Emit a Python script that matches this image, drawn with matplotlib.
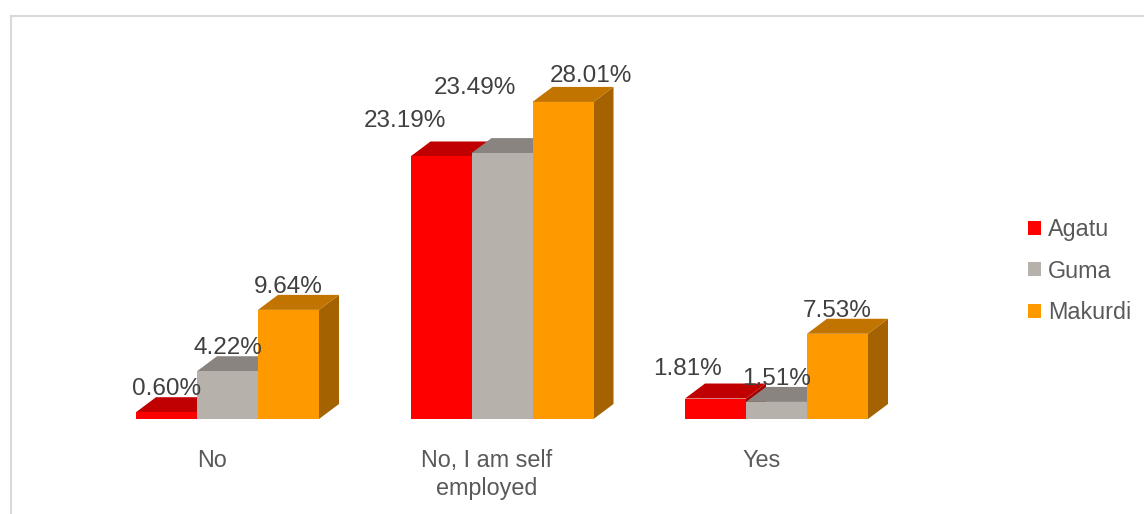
import matplotlib
matplotlib.use("Agg")
import matplotlib.pyplot as plt
from matplotlib.patches import Polygon, Patch
from matplotlib.lines import Line2D
import numpy as np

plt.rcParams['font.family'] = ['Liberation Sans', 'DejaVu Sans']

# data
categories = ["No", "No, I am self\nemployed", "Yes"]
series = ["Agatu", "Guma", "Makurdi"]
agatu = [0.60, 23.19, 1.81]
guma = [4.22, 23.49, 1.51]
makurdi = [9.64, 28.01, 7.53]
values = [agatu, guma, makurdi]

# face colours per series: front, top, side
front_cols = ["#FF0000", "#B7B1AC", "#FF9900"]
top_cols = ["#C00000", "#89847F", "#C27400"]
side_cols = ["#A30000", "#77726E", "#A56200"]

# label nudges in pixels (dx, dy) where labels were moved to avoid overlap
label_nudge = {
    (0, 1): (-36, 12),
    (1, 1): (-27, 42),
    (2, 1): (28, 3),
    (0, 2): (-28, 7),
}

W, H, DPI = 1144, 514, 100
fig = plt.figure(figsize=(W / DPI, H / DPI), dpi=DPI)

# plot area in pixels
px_left, px_right, px_base, px_top = 20, 1000, 419, 40
bar_px = 61.0          # bar width in pixels
pct_px = 11.32         # pixels per percent
cat0_px = 227.5        # pixel centre of first category

ax = fig.add_axes([px_left / W, (H - px_base) / H,
                   (px_right - px_left) / W, (px_base - px_top) / H])
ax.set_xlim((px_left - cat0_px) / bar_px, (px_right - cat0_px) / bar_px)
ax.set_ylim(0, (px_base - px_top) / pct_px)
ax.axis("off")

group_step = 4.5
cat_pos = np.arange(len(categories)) * group_step
depth_x = 20 / bar_px
depth_y = 15 / pct_px

for ci, cx in enumerate(cat_pos):
    for si in range(len(series)):
        h = values[si][ci]
        x0 = cx + (si - 1.5)
        x1 = x0 + 1
        front = Polygon([(x0, 0), (x1, 0), (x1, h), (x0, h)], closed=True,
                        facecolor=front_cols[si], edgecolor="none")
        top = Polygon([(x0, h), (x1, h), (x1 + depth_x, h + depth_y),
                       (x0 + depth_x, h + depth_y)], closed=True,
                      facecolor=top_cols[si], edgecolor="none")
        side = Polygon([(x1, 0), (x1 + depth_x, depth_y),
                        (x1 + depth_x, h + depth_y), (x1, h)], closed=True,
                       facecolor=side_cols[si], edgecolor="none")
        for p in (side, top, front):
            ax.add_patch(p)

        nx, ny = label_nudge.get((si, ci), (0, 0))
        ax.annotate(f"{h:.2f}%", xy=(x0 + 0.5, h + depth_y),
                    xytext=(nx, 8 + ny), textcoords="offset pixels",
                    ha="center", va="center", fontsize=17.5, color="#404040")

# category labels under each group
for ci, cx in enumerate(cat_pos):
    ax.annotate(categories[ci], xy=(cx - 0.25, 0), xytext=(0, -30),
                textcoords="offset pixels", ha="center", va="top",
                fontsize=16.8, color="#595959", linespacing=1.25)

handles = [Patch(facecolor=c, edgecolor="none") for c in front_cols]
fig.legend(handles, series, loc="center left",
           bbox_to_anchor=(1019 / W, 1 - 271 / H), frameon=False,
           fontsize=16.8, labelcolor="#595959", handlelength=0.55,
           handleheight=0.55, handletextpad=0.3, labelspacing=0.8,
           borderaxespad=0)

# chart border
border = "#D9D9D9"
fig.add_artist(Line2D([11 / W, 11 / W], [0, 1 - 16 / H], color=border, lw=1.5))
fig.add_artist(Line2D([11 / W, 1], [1 - 16 / H, 1 - 16 / H], color=border, lw=1.5))

fig.savefig("out.png", dpi=DPI)
